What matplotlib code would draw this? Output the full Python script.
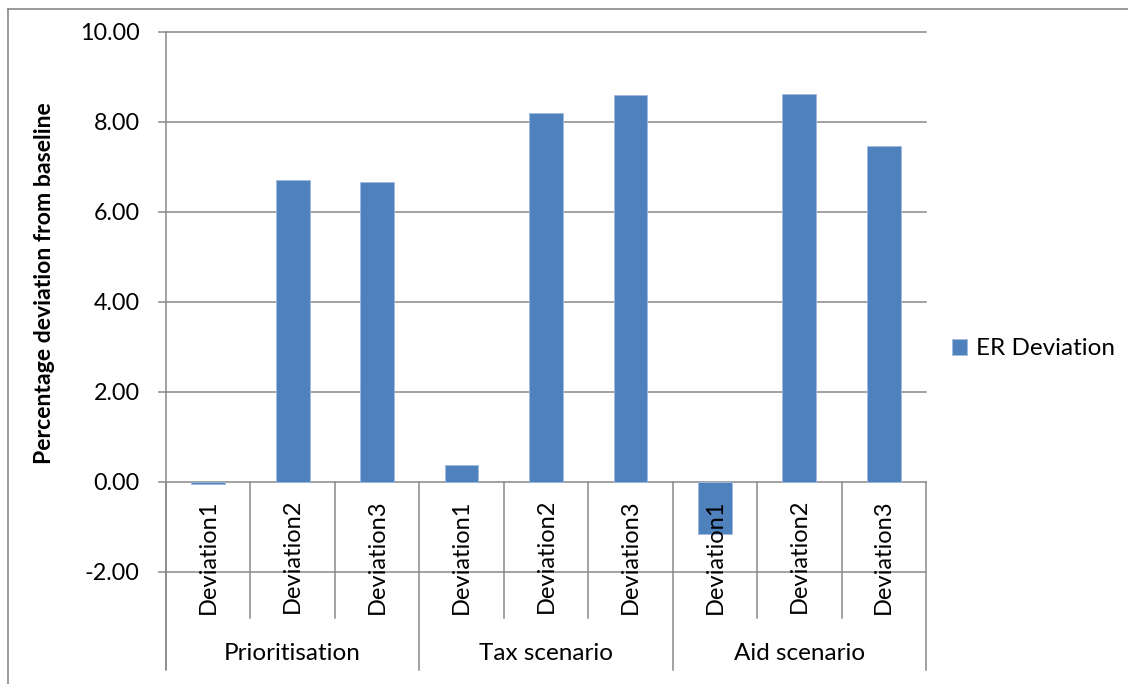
import matplotlib
matplotlib.use("Agg")
import matplotlib.pyplot as plt
from matplotlib.lines import Line2D

# Data
groups = ["Prioritisation", "Tax scenario", "Aid scenario"]
sub_labels = ["Deviation1", "Deviation2", "Deviation3"]
er_deviation = [-0.04, 6.71, 6.67, 0.38, 8.20, 8.59, -1.16, 8.62, 7.47]
series_name = "ER Deviation"
y_ticks = [-2, 0, 2, 4, 6, 8, 10]

plt.rcParams["font.family"] = ["Lato", "DejaVu Sans"]

W, H = 1128, 684
fig = plt.figure(figsize=(W / 100, H / 100), dpi=100)
fig.patch.set_facecolor("white")

left_px, right_px, top_px, bot_px = 166, 926, 32, 572
ax = fig.add_axes([left_px / W, 1 - bot_px / H,
                   (right_px - left_px) / W, (bot_px - top_px) / H])

grid_c = "#898989"
bar_c = "#4F81BD"

n = len(er_deviation)
xs = list(range(n))
ax.set_xlim(-0.5, n - 0.5)
ax.set_ylim(y_ticks[0], y_ticks[-1])

# Horizontal gridlines
for yv in y_ticks:
    ax.axhline(yv, color=grid_c, lw=1.1, zorder=1, clip_on=False)

bars = ax.bar(xs, er_deviation, width=0.4, color=bar_c, edgecolor="#9fbbe0",
              linewidth=0.6, zorder=3, label=series_name)

for s in ax.spines.values():
    s.set_visible(False)

ax.set_yticks(y_ticks)
ax.set_yticklabels([f"{v:.2f}" for v in y_ticks], fontsize=16.8)
ax.tick_params(axis="y", length=6, width=1.1, color=grid_c, pad=13)
ax.set_xticks([])

xt = ax.get_xaxis_transform()
axis_h = bot_px - top_px


def frac(ypx):
    return (bot_px - ypx) / axis_h


# Vertical value axis line (extends down through the category area)
ax.plot([-0.5, -0.5], [1.0, frac(669)], transform=xt, color=grid_c,
        lw=1.1, clip_on=False, zorder=4)

# Category separators
for k in range(n + 1):
    xk = k - 0.5
    y_end = frac(670) if k % 3 == 0 else frac(618)
    ax.plot([xk, xk], [frac(482), y_end], transform=xt, color=grid_c,
            lw=1.1, clip_on=False, zorder=4)

# Category labels
for i in xs:
    ax.text(i, frac(499), sub_labels[i % 3], rotation=90, ha="center",
            va="top", fontsize=17, transform=xt, zorder=5)

for g, name in enumerate(groups):
    ax.text(3 * g + 1, frac(653), name, ha="center", va="center",
            fontsize=17.5, transform=xt)

fig.text(45 / W, 1 - 283 / H, "Percentage deviation from baseline",
         rotation=90, ha="center", va="center", fontsize=16.6,
         fontweight="bold")

leg = ax.legend(loc="center left", bbox_to_anchor=(952 / W, 1 - 349 / H),
                bbox_transform=fig.transFigure, frameon=False, fontsize=17.5,
                handlelength=0.62, handleheight=0.62, handletextpad=0.35,
                borderaxespad=0, borderpad=0)

# Chart frame (top and left edges)
fig.add_artist(Line2D([8 / W, 1.0], [1 - 9 / H, 1 - 9 / H],
                      transform=fig.transFigure, color=grid_c, lw=1.2))
fig.add_artist(Line2D([8 / W, 8 / W], [1 - 9 / H, 0.0],
                      transform=fig.transFigure, color=grid_c, lw=1.2))

fig.savefig("out.png", dpi=100)
